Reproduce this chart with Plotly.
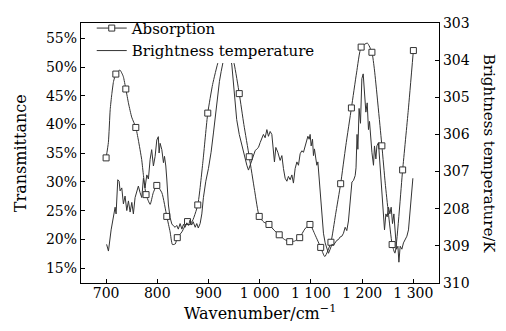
import plotly.graph_objects as go

# ---------------- data ----------------
# Absorption curve (left axis, %)
abs_wn = [700, 704.5, 708, 711, 714.5, 719, 727, 733.5, 738.5, 744, 750, 758, 763, 769.5, 773,
          778, 786, 792, 799, 809, 818.5, 825, 829.5, 835, 839, 848, 859, 867, 879, 889,
          898.5, 908, 919, 929, 940, 950, 960, 969, 979.5, 990, 999, 1008, 1018, 1028, 1038,
          1048, 1058.5, 1068, 1078, 1088, 1098, 1108, 1119, 1127, 1139, 1148, 1158, 1168,
          1179, 1189, 1198, 1210, 1219, 1224, 1238.5, 1245, 1251, 1258.5, 1264, 1279, 1290, 1300]
abs_pct = [34.2, 36.9, 42.6, 45.2, 47.5, 48.8, 49.5, 48.4, 46.2, 43.6, 41.3, 39.5, 37.3, 33.9, 31.1,
           27.8, 26.1, 28.1, 29.4, 28.1, 24.0, 21.3, 19.1, 19.2, 20.3, 21.3, 23.1, 23.0, 26.0, 33.5,
           42.0, 47.0, 51.0, 53.2, 53.6, 50.6, 45.4, 40.0, 34.4, 28.5, 24.0, 23.0, 22.6, 21.6, 20.8,
           20.0, 19.6, 19.7, 20.3, 21.8, 22.6, 20.8, 18.6, 17.0, 19.5, 24.3, 29.7, 36.3,
           42.9, 49.0, 53.5, 54.2, 52.6, 49.5, 36.3, 29.8, 24.7, 19.1, 17.6, 32.1, 42.5, 52.9]
# wavenumbers that carry a visible square marker
abs_marker_wn = [700, 719, 738.5, 758, 778, 799, 818.5, 839, 859, 879, 898.5, 940, 960,
                 979.5, 999, 1018, 1038, 1058.5, 1078, 1098, 1119, 1139, 1158, 1179, 1198,
                 1219, 1238.5, 1258.5, 1279, 1300]

# Brightness temperature (right axis, K)
bt_wn = [701, 704.6, 709.8, 714.3, 717.6, 719.5, 722.8, 725.4, 727.3, 730.6, 733.8, 737, 740.4,
         743.6, 746.9, 750.2, 753.3, 756.6, 760, 763, 766.4, 769.7, 772.9, 776, 779.5, 782.6,
         786, 789, 792.4, 795.7, 799, 802, 803.5, 805.5, 808.8, 812, 814, 816.6, 818.5, 821.7,
         825, 828.3, 831.4, 834.8, 838, 841, 844.5, 848, 851, 854, 857.6, 861, 864, 867, 870,
         874, 877, 880, 883.6, 886.9, 890, 894.7, 899.8, 905, 909.6, 914.3, 918.2, 921.3,
         924.6, 927.2, 932, 937, 942, 945.5, 950, 955, 960, 965, 970, 974.8, 978, 981.3, 984.6,
         987.7, 991, 994.3, 997.5, 1000.8, 1004, 1007.2, 1010.5, 1013.9, 1017, 1020.3, 1023.6,
         1026.8, 1028.7, 1031.4, 1035.3, 1039.8, 1043.2, 1046.3, 1049.6, 1053, 1056, 1059.4,
         1062.7, 1065.8, 1069.1, 1072.5, 1075.6, 1078.9, 1082.2, 1085.4, 1088.7, 1092, 1094,
         1096.5, 1098.4, 1100.4, 1103, 1104.9, 1106.8, 1109.6, 1111.5, 1113.5, 1116, 1118, 1120,
         1121.3, 1124.4, 1127.7, 1131, 1134.2, 1137.5, 1140.8, 1144, 1147.3, 1150.6, 1153.7,
         1157, 1160.4, 1163.5, 1166.8, 1170, 1173.2, 1176.6, 1180, 1183, 1186.3, 1188, 1190,
         1191.6, 1194, 1196.7, 1199.4, 1202, 1204.5, 1207.2, 1209.8, 1212.3, 1214.3, 1216.2,
         1219, 1222.1, 1224, 1226.8, 1228.7, 1231.8, 1235.2, 1238.5, 1241.6, 1243.6, 1246.3,
         1248.8, 1251.4, 1254.1, 1256.6, 1259.2, 1261.9, 1264.5, 1267, 1269.8, 1271.7, 1274.2,
         1277.5, 1280.6, 1284, 1287.3, 1290.4, 1293.7, 1297, 1299]
bt_k = [308.96, 309.14, 308.57, 308.22, 307.96, 308.14, 307.22, 307.26, 307.52, 307.44, 307.87,
        307.66, 308.05, 307.79, 308.09, 307.83, 308.14, 307.70, 307.52, 307.39, 307.57, 307.70,
        307.18, 307.44, 307.09, 307.20, 306.67, 306.41, 306.85, 306.59, 306.15, 306.06, 306.50,
        306.24, 306.41, 306.76, 306.59, 306.85, 307.20, 307.90, 308.24, 308.41, 308.46, 308.50,
        308.45, 308.55, 308.40, 308.55, 308.42, 308.50, 308.38, 308.45, 308.30, 308.44, 308.35,
        308.50, 308.40, 308.52, 308.40, 308.14, 307.70, 307.26, 306.92, 306.48, 305.96, 305.35,
        305.00, 304.57, 304.31, 304.13, 303.80, 303.60, 303.85, 304.13, 304.90, 305.60, 306.00,
        306.30, 306.60, 306.83, 306.96, 306.83, 306.70, 306.57, 306.44, 306.39, 306.35, 306.22,
        306.13, 306.00, 306.09, 305.87, 306.05, 305.92, 306.00, 306.48, 306.74, 306.35, 306.48,
        306.70, 306.57, 306.92, 307.18, 307.26, 307.13, 307.22, 307.09, 307.31, 306.92, 306.74,
        306.83, 306.52, 306.44, 306.48, 306.31, 306.13, 306.05, 306.13, 306.00, 306.31, 306.13,
        306.57, 306.39, 306.66, 306.83, 306.74, 307.18, 307.70, 308.05, 308.22, 308.66, 308.92,
        309.09, 309.20, 309.09, 308.96, 308.98, 308.92, 308.85, 308.83, 308.76, 308.74, 308.66,
        308.50, 308.59, 308.33, 307.72, 307.28, 307.24, 307.11, 306.90, 306.00, 306.40, 305.30,
        305.70, 304.50, 304.37, 304.90, 305.40, 305.15, 305.87, 305.65, 306.13, 306.48, 306.83,
        306.31, 306.66, 306.31, 306.22, 306.83, 307.52, 308.22, 308.57, 308.14, 308.22, 307.96,
        308.14, 307.96, 308.40, 308.14, 308.57, 309.09, 309.01, 309.44, 309.01, 309.09, 308.92,
        308.83, 308.74, 308.57, 307.96, 307.52, 307.18]

x_ticks = [700, 800, 900, 1000, 1100, 1200, 1300]
x_tick_text = ["700", "800", "900", "1 000", "1 100", "1 200", "1 300"]
y_ticks = [15, 20, 25, 30, 35, 40, 45, 50, 55]
y_tick_text = ["15%", "20%", "25%", "30%", "35%", "40%", "45%", "50%", "55%"]
y2_ticks = [303, 304, 305, 306, 307, 308, 309, 310]
y2_tick_text = ["303", "304", "305", "306", "307", "208", "309", "310"]

# ---------------- figure ----------------
FONT = "DejaVu Serif"
LINE = "#333333"

is_marker = [w in abs_marker_wn for w in abs_wn]
fill = ["white" if m else "rgba(0,0,0,0)" for m in is_marker]
edge = [LINE if m else "rgba(0,0,0,0)" for m in is_marker]

fig = go.Figure()
fig.add_trace(go.Scatter(
    x=abs_wn, y=abs_pct, name="Absorption", mode="lines+markers",
    line=dict(color=LINE, width=1, shape="spline", smoothing=0.5),
    marker=dict(symbol="square", size=6, color=fill, line=dict(color=edge, width=1)),
    yaxis="y"))
fig.add_trace(go.Scatter(
    x=bt_wn, y=bt_k, name="Brightness temperature", mode="lines",
    line=dict(color=LINE, width=1), yaxis="y2"))

axis_common = dict(showline=True, linecolor="black", linewidth=1.3, ticks="inside",
                   ticklen=4, tickcolor="black", tickwidth=1.2, showgrid=False, zeroline=False,
                   tickfont=dict(family=FONT, size=14, color="black"))

fig.update_layout(
    width=506, height=331,
    margin=dict(l=81, r=67, t=16, b=48),
    plot_bgcolor="white", paper_bgcolor="white",
    xaxis=dict(range=[651, 1350], tickvals=x_ticks, ticktext=x_tick_text, mirror=True,
               ticklabelstandoff=-3, **axis_common),
    yaxis=dict(range=[12.4, 57.7], tickvals=y_ticks, ticktext=y_tick_text, **axis_common),
    yaxis2=dict(range=[310, 303], tickvals=y2_ticks, ticktext=y2_tick_text,
                overlaying="y", side="right", **axis_common),
    legend=dict(x=0.03, y=1.043, xanchor="left", yanchor="top", bgcolor="rgba(0,0,0,0)",
                font=dict(family=FONT, size=15, color="black"), borderwidth=0,
                tracegroupgap=0),
    # white backing behind the legend (hides curves under it, as in the reference)
    shapes=[dict(type="rect", xref="paper", yref="paper", x0=0.011, x1=0.696,
                 y0=0.846, y1=0.994, fillcolor="white", line=dict(width=0), layer="above")],
    annotations=[
        dict(text="Wavenumber/cm<sup>−1</sup>", xref="paper", yref="paper", x=0.5, y=-0.115,
             xanchor="center", yanchor="middle", showarrow=False,
             font=dict(family=FONT, size=16, color="black")),
        dict(text="Transmittance", xref="paper", yref="paper", x=-0.170, y=0.5,
             xanchor="center", yanchor="middle", textangle=-90, showarrow=False,
             font=dict(family=FONT, size=16, color="black")),
        dict(text="Brightness temperature/K", xref="paper", yref="paper", x=1.140, y=0.5,
             xanchor="center", yanchor="middle", textangle=90, showarrow=False,
             font=dict(family=FONT, size=15, color="black")),
    ],
)

fig.write_html("out.html")
